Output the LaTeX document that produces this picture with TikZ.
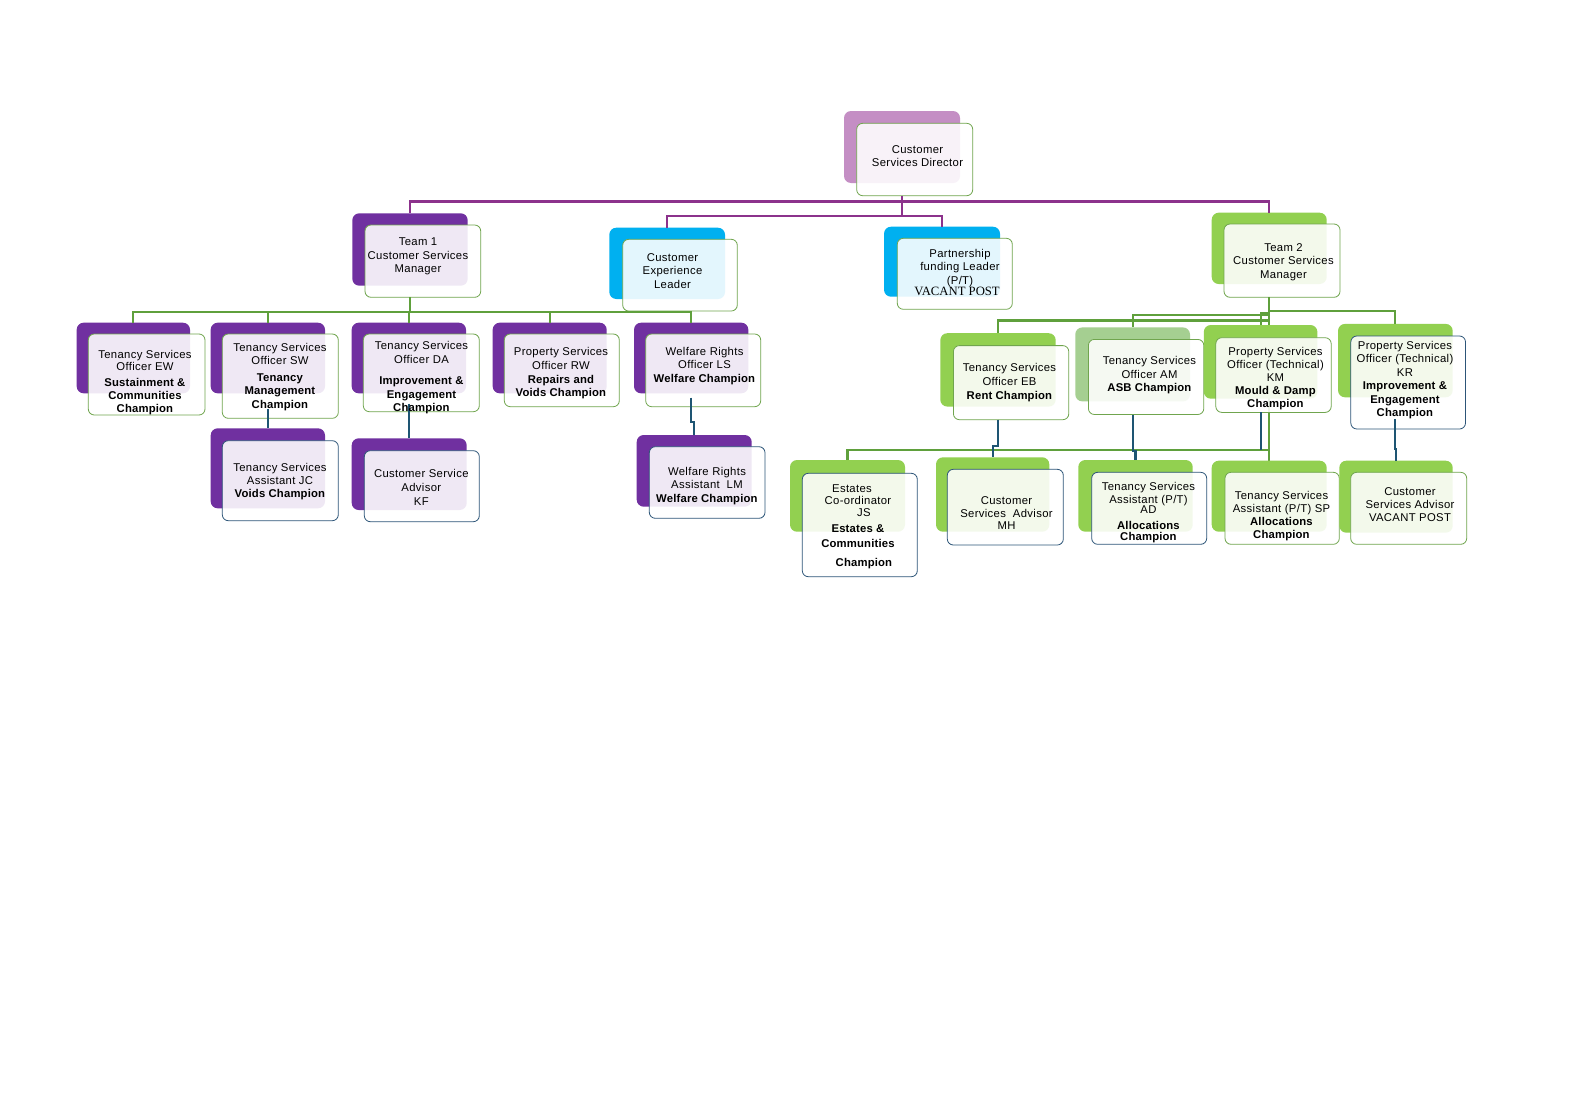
\documentclass[tikz,border=0pt]{standalone}
\usepackage{fontspec}
\setmainfont{Liberation Sans}[LetterSpace=3, BoldFeatures={LetterSpace=1.5}]
\newfontfamily\vacfont{Liberation Serif}
\usetikzlibrary{fit,calc}
\pgfdeclarelayer{bg}
\pgfdeclarelayer{under}
\pgfsetlayers{bg,under,main}
\definecolor{purpline}{RGB}{140,50,140}
\definecolor{grline}{RGB}{95,160,60}
\definecolor{tealline}{RGB}{30,85,115}
\definecolor{purpback}{RGB}{112,48,160}
\definecolor{mauveback}{RGB}{196,142,196}
\definecolor{cyanback}{RGB}{0,176,240}
\definecolor{greenback}{RGB}{146,208,80}
\definecolor{paleback}{RGB}{165,207,145}
\definecolor{grborder}{RGB}{112,165,78}
\definecolor{blborder}{RGB}{45,85,120}
\newcommand\orgbox[5]{%
  \node[backbox, fill=#2, fit={#4}] (#1B) {};
  \node[frontbox, draw=#3, fit={#5}] (#1F) {};}
\begin{document}
\begin{tikzpicture}[x=1pt,y=-1pt,
  backbox/.style={draw=none, rounded corners=7pt, inner sep=0pt, outer sep=0pt},
  frontbox/.style={rounded corners=6pt, fill=white, fill opacity=0.89, line width=0.8pt, inner sep=0pt, outer sep=0pt},
  txt/.style={align=center, inner sep=0pt, font=\fontsize{11.3}{#1}\selectfont},
  txt/.default=13.3,
  pline/.style={draw=purpline, line width=2.5pt},
  gline/.style={draw=grline, line width=2.1pt},
  tline/.style={draw=tealline, line width=2.1pt}]
\begin{pgfonlayer}{bg}
\fill[white] (0,0) rectangle (1588,1111);
\end{pgfonlayer}
\useasboundingbox (0,0) rectangle (1588,1111);
% bus coordinates
\coordinate (bus1) at (0,201.7);
\coordinate (bus2) at (0,216);
\coordinate (bus3) at (0,311.7);
\coordinate (jogA) at (0,422);
\coordinate (b11) at (0,311.2);
\coordinate (b12) at (0,313.2);
\coordinate (b13) at (0,314.8);
\coordinate (b14) at (0,320.5);
\coordinate (bus5) at (0,450);
\coordinate (jogB) at (0,446);
\coordinate (jogC) at (0,451);
\coordinate (jogD) at (0,449);
% top level
\orgbox{dir}{mauveback}{grborder}{(844,111)(960,183)}{(856.7,123.3)(972.7,195.7)}
\orgbox{tone}{purpback}{grborder}{(352.3,213.3)(467.7,285.7)}{(365,225)(480.7,297.3)}
\orgbox{ce}{cyanback}{grborder}{(609.3,227.7)(725,299)}{(622.7,239.3)(737.3,311)}
\orgbox{pf}{cyanback}{grborder}{(884,226.7)(1000,296.7)}{(897.3,238.3)(1012.3,309.3)}
\orgbox{ttwo}{greenback}{grborder}{(1211.7,212.7)(1326.7,284)}{(1224,224)(1340,297.3)}
% team 1 row
\orgbox{ew}{purpback}{grborder}{(76.7,322.7)(190,393.3)}{(88.3,334)(205,415)}
\orgbox{sw}{purpback}{grborder}{(210.7,322.7)(325,393.3)}{(222.3,334)(338.3,418.3)}
\orgbox{da}{purpback}{grborder}{(351.7,322.7)(466,393.3)}{(363.3,334)(479.3,411.7)}
\orgbox{rw}{purpback}{grborder}{(492.7,322.7)(606.7,393.3)}{(504.3,334)(619.3,406.7)}
\orgbox{ls}{purpback}{grborder}{(634,322.7)(748.3,393.3)}{(645.7,334)(760.7,406.7)}
\orgbox{jc}{purpback}{blborder}{(210.7,428.3)(325,508.3)}{(222.3,440.7)(338.3,520.7)}
\orgbox{kf}{purpback}{blborder}{(351.7,438.3)(466.7,510)}{(364.3,450.7)(479.3,521.7)}
\orgbox{lm}{purpback}{blborder}{(636.7,435)(751.7,506.7)}{(649.3,446.7)(765,518.3)}
% team 2 rows
\orgbox{eb}{greenback}{grborder}{(940.3,333.2)(1055.7,406.6)}{(953.4,345.6)(1068.8,419.7)}
\orgbox{am}{paleback}{grborder}{(1075.3,327.4)(1190,401.4)}{(1088.4,339.4)(1203.8,414.5)}
\orgbox{km}{greenback}{grborder}{(1203.8,325)(1317.4,398.7)}{(1215.8,337.7)(1331.2,412.4)}
\orgbox{kr}{greenback}{blborder}{(1338,323.9)(1452.7,397.3)}{(1350.8,336)(1465.5,429)}
\orgbox{js}{greenback}{blborder}{(790,460)(905,531.7)}{(802.3,473.3)(917.3,576.7)}
\orgbox{mh}{greenback}{blborder}{(936,457.3)(1049.3,531.7)}{(947.3,469.3)(1063.3,545)}
\orgbox{ad}{greenback}{blborder}{(1078.3,460)(1192.7,531.7)}{(1091.7,472.3)(1206.7,544.3)}
\orgbox{sp}{greenback}{grborder}{(1211.7,460.7)(1326.7,531.7)}{(1225,472.3)(1339.3,544.3)}
\orgbox{vac}{greenback}{grborder}{(1339.3,460.7)(1452.7,532.7)}{(1350.7,472.3)(1466.7,544.3)}
% team 2 long connector (under boxes)
\begin{pgfonlayer}{under}
\draw[gline] (ttwoB.center |- ttwoF.south) -- (ttwoB.center |- spB.north);
\end{pgfonlayer}
% purple connectors
\draw[pline] (dirB.center |- dirF.south) -- (dirB.center |- bus2);
\draw[pline] (toneB.north) -- (toneB.north |- bus1) -- (ttwoB.north |- bus1) -- (ttwoB.north);
\draw[pline] (ceB.north) -- (ceB.north |- bus2) -- (pfB.north |- bus2) -- (pfB.north);
% green team 1
\draw[gline] (toneB.center |- toneF.south) -- (toneB.center |- bus3);
\draw[gline] (ewB.north) -- (ewB.north |- bus3) -- (lsB.north |- bus3) -- (lsB.north);
\draw[gline] (swB.north) -- (swB.north |- bus3);
\draw[gline] (daB.north) -- (daB.north |- bus3);
\draw[gline] (rwB.north) -- (rwB.north |- bus3);
% teal team 1
\draw[tline] ($(swB.center |- swF.south)+(0,-9)$) -- (jcB.north);
\draw[tline] ($(daB.center |- daF.south)+(0,-8)$) -- ++(0,14) -| (kfB.north);
\draw[tline] ($(lsB.center |- lsF.south)+(0,-9)$) -- (lsB.center |- jogA) -| (lmB.north);
% green team 2
\draw[gline] (ttwoB.center |- ttwoF.south) -- (ttwoB.center |- b14);
\draw[gline] (ttwoB.center |- b11) -| (krB.north);
\draw[gline] (ttwoB.center |- b12) -| (kmB.north);
\draw[gline] (ttwoB.center |- b13) -| (amB.north);
\draw[gline] (ttwoB.center |- b14) -| (ebB.north);
\draw[gline] (ttwoB.center |- bus5) -| (jsB.north);
% teal team 2
\draw[tline] (ebB.center |- ebF.south) -- (ebB.center |- jogB) -| (mhB.north);
\draw[tline] (amB.center |- amF.south) -- (amB.center |- jogC) -| (adB.north);
\draw[tline] (kmB.center |- kmF.south) -- (kmB.center |- bus5);
\draw[tline] ($(krB.center |- krF.south)+(0,-10)$) -- (krB.center |- jogD) -| (vacB.north);
% texts
\node[txt] (dirT) at (917.5,156) {Customer\\Services Director};
\node[txt] (toneT) at (418,256.5) {Team 1\\Customer Services\\Manager};
\node[txt] (ceT) at (672.5,271) {Customer\\Experience\\Leader};
\node[txt=13.7] (pfT) at (960,268) {Partnership\\funding Leader\\(P/T)};
\node[align=center, inner sep=0pt, font=\vacfont\fontsize{12.7}{14}\selectfont] (pfV) at (957,291.5) {VACANT POST};
\node[txt] (ttwoT) at (1283.5,262.2) {Team 2\\Customer Services\\Manager};
\node[txt=12.8] (ewT) at (145,382.5) {Tenancy Services\\Officer EW\\[2.5pt]\textbf{Sustainment \&}\\[1pt]\textbf{Communities}\\\textbf{Champion}};
\node[txt=13.3] (swT) at (280,376.7) {Tenancy Services\\Officer SW\\[4pt]\textbf{Tenancy}\\\textbf{Management}\\\textbf{Champion}};
\node[txt=13.3] (daT) at (421.5,377.8) {Tenancy Services\\Officer DA\\[8.5pt]\textbf{Improvement \&}\\\textbf{Engagement}\\\textbf{Champion}};
\node[txt=13.3] (rwT) at (561,373.3) {Property Services\\Officer RW\\[1pt]\textbf{Repairs and}\\\textbf{Voids Champion}};
\node[txt=13.2] (lsT) at (704.5,366) {Welfare Rights\\Officer LS\\\textbf{Welfare Champion}};
\node[txt=13] (jcT) at (280,482) {Tenancy Services\\Assistant JC\\\textbf{Voids Champion}};
\node[txt=14] (kfT) at (421.3,487) {Customer Service\\Advisor\\KF};
\node[txt=13.8] (lmT) at (707,486) {Welfare Rights\\Assistant\ \ LM\\\textbf{Welfare Champion}};
\node[txt=14] (ebT) at (1009.5,382.3) {Tenancy Services\\Officer EB\\\textbf{Rent Champion}};
\node[txt=13.7] (amT) at (1149.5,375.3) {Tenancy Services\\Officer AM\\\textbf{ASB Champion}};
\node[txt=13.2] (kmT) at (1275.5,378.6) {Property Services\\Officer (Technical)\\KM\\\textbf{Mould \& Damp}\\\textbf{Champion}};
\node[txt=13.4] (krT) at (1405,380) {Property Services\\Officer (Technical)\\KR\\\textbf{Improvement \&}\\\textbf{Engagement}\\\textbf{Champion}};
\node[txt=12] (jsT) at (858,527) {Estates\hspace*{12pt}\\Co-ordinator\\\hspace*{12pt}JS\\[4pt]\textbf{Estates \&}\\[3pt]\textbf{Communities}\\[7pt]\hspace*{12pt}\textbf{Champion}};
\node[txt=12.5] (mhT) at (1006.5,513.5) {Customer\\Services\ \ Advisor\\MH};
\node[txt=12.4] (adT) at (1148.5,512.8) {Tenancy Services\\Assistant (P/T)\\[-2pt]AD\\[3.5pt]\textbf{Allocations}\\[-1pt]\textbf{Champion}};
\node[txt=13.1] (spT) at (1281.5,516) {Tenancy Services\\Assistant (P/T) SP\\\textbf{Allocations}\\\textbf{Champion}};
\node[txt=13.3] (vacT) at (1410,504.5) {Customer\\Services Advisor\\VACANT POST};
\end{tikzpicture}
\end{document}
